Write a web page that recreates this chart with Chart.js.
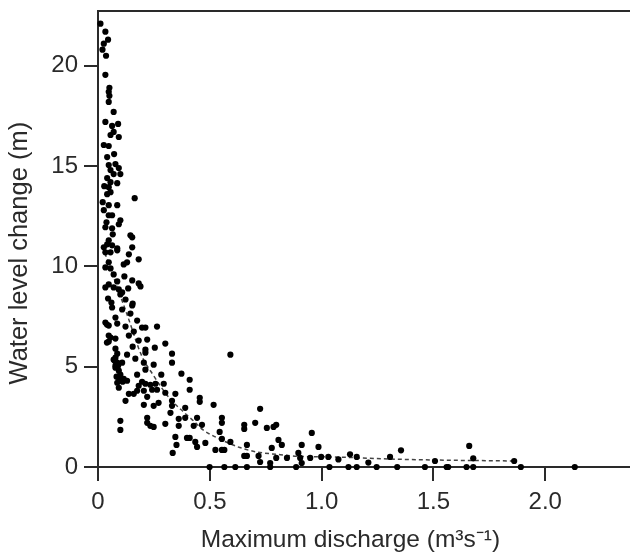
<!DOCTYPE html>
<html>
<head>
<meta charset="utf-8">
<script src="https://cdn.jsdelivr.net/npm/chart.js@4/dist/chart.umd.min.js"></script>
<style>
  html, body { margin: 0; padding: 0; background: #fff; }
  #wrap { width: 630px; height: 555px; }
</style>
</head>
<body>
<div id="wrap"><canvas id="chart" width="630" height="555"></canvas></div>
<script>
// ── Data ───────────────────────────────────────────────────────
// maximum discharge (m3 s-1)
const dischargeX = [
  0.011, 0.033, 0.045, 0.026, 0.020, 0.036, 0.033, 0.051, 0.048, 0.051, 0.048, 0.070, 0.033, 0.063, 0.090,
  0.056, 0.070, 0.093, 0.026, 0.048, 0.041, 0.048, 0.078, 0.093, 0.056, 0.070, 0.100, 0.041, 0.056, 0.086,
  0.048, 0.056, 0.041, 0.164, 0.021, 0.048, 0.086, 0.026, 0.048, 0.063, 0.100, 0.093, 0.033, 0.063, 0.145,
  0.153, 0.048, 0.041, 0.063, 0.086, 0.153, 0.026,
  0.033, 0.056, 0.086, 0.138, 0.182, 0.130, 0.115, 0.048, 0.033, 0.056, 0.070, 0.153, 0.182, 0.190, 0.086,
  0.048, 0.033, 0.070, 0.093, 0.108, 0.100, 0.045, 0.123, 0.155, 0.153, 0.063, 0.108, 0.145, 0.078, 0.175,
  0.033, 0.048, 0.086, 0.123, 0.197, 0.212, 0.264, 0.160, 0.048, 0.138, 0.182, 0.220, 0.048, 0.078, 0.301,
  0.155, 0.212, 0.254, 0.078, 0.086, 0.130, 0.331, 0.078, 0.167,
  0.212, 0.331, 0.070, 0.086, 0.108, 0.205, 0.249, 0.093, 0.100, 0.175, 0.212, 0.283, 0.373, 0.115, 0.130,
  0.086, 0.197, 0.212, 0.234, 0.257, 0.294, 0.093, 0.182, 0.410, 0.410, 0.242, 0.264, 0.138, 0.160, 0.175,
  0.205, 0.301, 0.346, 0.220, 0.123, 0.271, 0.331, 0.205, 0.249, 0.331, 0.390, 0.324, 0.220, 0.361, 0.390,
  0.100, 0.220, 0.234, 0.249, 0.301, 0.361, 0.428, 0.100, 0.346, 0.398, 0.410, 0.435, 0.351, 0.334,
  0.592, 0.455, 0.455, 0.517, 0.725, 0.443, 0.465, 0.554, 0.554, 0.654, 0.654, 0.703, 0.755, 0.785, 0.797,
  0.544, 0.554, 0.592, 0.443, 0.480, 0.525, 0.554, 0.565, 0.666, 0.654, 0.666, 0.718, 0.725, 0.777, 0.807,
  0.822, 0.770, 0.797, 0.845, 0.911, 0.896, 0.904, 0.911, 0.956, 0.986, 0.949, 0.998, 1.030,
  1.075, 1.127, 1.157, 1.209, 1.306, 1.355, 1.507, 1.660, 1.678, 1.861,
  0.499, 0.565, 0.614, 0.666, 0.770, 0.886, 1.035, 1.120, 1.157, 1.246, 1.338, 1.462, 1.559, 1.566, 1.648,
  1.678, 1.891, 2.132,
  0.083, 0.095, 0.105, 0.110, 0.078, 0.090, 0.040, 0.056, 0.040, 0.075, 0.078, 0.060, 0.066, 0.118, 0.135,
  0.028, 0.038, 0.072
];
// water level change (m)
const levelY = [
  22.1, 21.7, 21.3, 21.1, 20.8, 20.5, 19.55, 18.9, 18.7, 18.5, 18.2, 17.7, 17.2, 17.0, 17.1,
  16.55, 16.7, 16.45, 16.05, 16.0, 15.45, 15.05, 15.1, 14.9, 14.8, 14.6, 14.6, 14.4, 14.2, 14.15,
  13.95, 13.7, 13.6, 13.4, 13.2, 13.05, 13.05, 12.8, 12.55, 12.55, 12.3, 12.1, 11.95, 11.9, 11.55,
  11.45, 11.3, 11.1, 11.05, 10.9, 10.95, 10.95,
  10.7, 10.7, 10.8, 10.6, 10.35, 10.2, 10.1, 10.2, 9.95, 9.9, 9.6, 9.3, 9.15, 9.0, 9.25,
  9.1, 8.95, 8.95, 8.85, 8.7, 8.6, 8.4, 8.35, 8.15, 8.05, 7.95, 7.85, 7.65, 7.45, 7.3,
  7.2, 7.05, 7.15, 7.0, 6.95, 6.95, 7.0, 6.75, 6.55, 6.55, 6.3, 6.35, 6.25, 6.4, 6.15,
  6.0, 5.85, 5.95, 5.9, 5.65, 5.6, 5.65, 5.45, 5.4,
  5.7, 5.2, 5.35, 5.2, 5.2, 5.2, 5.1, 4.8, 4.6, 4.6, 4.85, 4.6, 4.65, 4.4, 4.3,
  4.2, 4.25, 4.15, 4.1, 4.15, 4.15, 3.95, 4.05, 4.35, 3.85, 3.85, 3.85, 3.65, 3.65, 3.8,
  3.8, 3.7, 3.65, 3.5, 3.3, 3.2, 3.3, 3.1, 3.05, 3.05, 2.95, 2.7, 2.45, 2.4, 2.45,
  2.3, 2.2, 2.05, 2.0, 2.15, 2.05, 2.05, 1.85, 1.5, 1.45, 1.45, 1.25, 1.1, 0.7,
  5.6, 3.45, 3.25, 3.1, 2.9, 2.45, 2.1, 2.45, 2.2, 2.1, 1.9, 2.2, 1.95, 2.0, 2.1,
  1.75, 1.4, 1.25, 1.0, 1.2, 0.85, 0.85, 0.85, 1.1, 0.55, 0.55, 0.55, 0.25, 0.95, 1.35,
  1.1, 0.2, 0.45, 0.45, 1.1, 0.7, 0.45, 0.2, 1.7, 1.0, 0.45, 0.5, 0.5,
  0.38, 0.63, 0.5, 0.22, 0.5, 0.83, 0.3, 1.05, 0.43, 0.3,
  0, 0, 0, 0, 0, 0, 0, 0, 0, 0, 0, 0, 0, 0, 0,
  0, 0, 0,
  4.5, 4.35, 4.4, 4.25, 4.95, 5.05, 6.2, 6.45, 7.1, 5.3, 5.05, 8.2, 11.6, 9.5, 8.9,
  14.0, 12.2, 15.6
];

// fitted curve (dashed), read at points along the line
const fitX = [0.02, 0.065, 0.13, 0.197, 0.249, 0.294, 0.33, 0.382, 0.427, 0.47, 0.53, 0.634, 0.709, 0.8, 0.9, 1.05, 1.3, 1.5, 1.86];
const fitY = [11.0, 9.6, 7.6, 5.5, 4.55, 3.8, 3.3, 2.75, 2.3, 1.85, 1.47, 0.97, 0.75, 0.63, 0.53, 0.5, 0.4, 0.35, 0.3];

// axes
const xTickValues = [0, 0.5, 1.0, 1.5, 2.0];
const xTickLabels = ['0', '0.5', '1.0', '1.5', '2.0'];
const yTickValues = [0, 5, 10, 15, 20];
const yTickLabels = ['0', '5', '10', '15', '20'];
const X_MAX = 2.379;
const Y_MAX = 22.73;

const INK = '#2a2a2a';
const FONT = "'Liberation Sans', Arial, Helvetica, sans-serif";

// top frame line
const topFrame = {
  id: 'topFrame',
  afterDraw(chart) {
    const { ctx, chartArea } = chart;
    ctx.save();
    ctx.strokeStyle = INK;
    ctx.lineWidth = 2;
    ctx.beginPath();
    ctx.moveTo(chartArea.left - 1, chartArea.top);
    ctx.lineTo(chartArea.right, chartArea.top);
    ctx.stroke();
    ctx.restore();
  }
};

new Chart(document.getElementById('chart'), {
  data: {
    datasets: [
      {
        type: 'scatter',
        data: dischargeX.map((x, i) => ({ x, y: levelY[i] })),
        backgroundColor: '#000',
        borderWidth: 0,
        pointRadius: 3.1,
        clip: false,
        order: 0,
      },
      {
        type: 'line',
        data: fitX.map((x, i) => ({ x, y: fitY[i] })),
        borderColor: '#444',
        borderWidth: 1.5,
        borderDash: [4, 3],
        pointRadius: 0,
        fill: false,
        cubicInterpolationMode: 'monotone',
        order: 1,
      },
    ],
  },
  options: {
    responsive: false,
    animation: false,
    events: [],
    layout: { autoPadding: false, padding: { top: 11, right: 0, left: 0, bottom: 0 } },
    plugins: { legend: { display: false }, tooltip: { enabled: false } },
    scales: {
      x: {
        type: 'linear',
        min: 0,
        max: X_MAX,
        afterFit: s => { s.height = 88; s.paddingLeft = 0; s.paddingRight = 0; },
        afterBuildTicks: s => { s.ticks = xTickValues.map(v => ({ value: v })); },
        ticks: {
          callback: (v, i) => xTickLabels[i],
          color: INK,
          font: { family: FONT, size: 24 },
          padding: 7,
          maxRotation: 0,
        },
        grid: { drawOnChartArea: false, drawTicks: true, tickLength: 14, color: INK, lineWidth: 2 },
        border: { display: true, color: INK, width: 2 },
        title: {
          display: true,
          text: 'Maximum discharge (m³s⁻¹)    ',
          color: INK,
          font: { family: FONT, size: 24.5 },
          padding: { top: 0, bottom: 0.5 },
        },
      },
      y: {
        type: 'linear',
        min: 0,
        max: Y_MAX,
        afterFit: s => { s.width = 98; s.paddingTop = 0; s.paddingBottom = 0; },
        afterBuildTicks: s => { s.ticks = yTickValues.map(v => ({ value: v })); },
        ticks: {
          callback: (v, i) => yTickLabels[i],
          color: INK,
          font: { family: FONT, size: 24 },
          padding: 6,
        },
        grid: { drawOnChartArea: false, drawTicks: true, tickLength: 14, color: INK, lineWidth: 2 },
        border: { display: true, color: INK, width: 2 },
        title: {
          display: true,
          text: 'Water level change (m)    ',
          color: INK,
          font: { family: FONT, size: 25.5 },
          padding: { top: 5, bottom: 0 },
        },
      },
    },
  },
  plugins: [topFrame],
});
</script>
</body>
</html>
